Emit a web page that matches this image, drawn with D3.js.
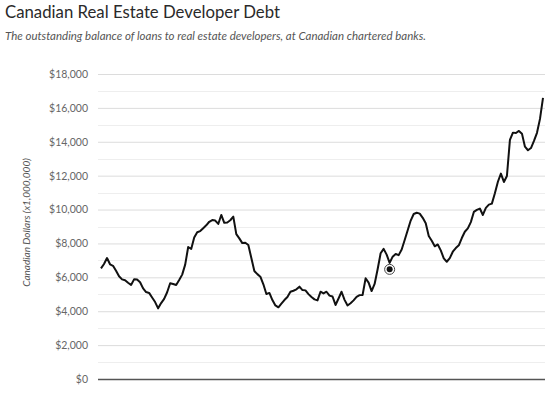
<!DOCTYPE html>
<html>
<head>
<meta charset="utf-8">
<script src="https://cdn.jsdelivr.net/npm/d3@7"></script>
<style>
    body { margin: 0; background: #fff; font-family: Lato, "Open Sans", sans-serif; }
    #chart-area { width: 553px; height: 393px; }
</style>
</head>
<body>
<div id="chart-area"></div>
<script>

// outstanding balance, C$ millions, evenly spaced observations
let debtValues = [
    6530, 6790, 7140, 6770, 6680, 6390, 6060, 5880, 5830, 5680,
    5550, 5880, 5870, 5710, 5350, 5130, 5080, 4810, 4540, 4170,
    4480, 4730, 5120, 5650, 5610, 5550, 5840, 6160, 6750, 7790,
    7670, 8350, 8660, 8730, 8900, 9070, 9280, 9380, 9350, 9150,
    9680, 9220, 9240, 9370, 9580, 8550, 8300, 8020, 8040, 7910,
    7140, 6370, 6190, 6040, 5590, 5020, 5080, 4660, 4340, 4230,
    4450, 4660, 4840, 5150, 5210, 5290, 5450, 5250, 5230, 5010,
    4840, 4700, 4640, 5150, 5050, 5150, 4920, 4870, 4370, 4750,
    5150, 4670, 4340, 4470, 4640, 4850, 4950, 4960, 5940, 5690,
    5190, 5610, 6480, 7420, 7680, 7340, 6850, 7220, 7380, 7310,
    7640, 8200, 8780, 9350, 9740, 9810, 9760, 9510, 9190, 8440,
    8160, 7830, 7940, 7590, 7120, 6920, 7130, 7510, 7730, 7890,
    8320, 8690, 8890, 9260, 9860, 9980, 10060, 9680, 10100, 10290,
    10350, 10960, 11640, 12120, 11630, 11980, 14110, 14540, 14520, 14640,
    14480, 13710, 13500, 13630, 14050, 14530, 15350, 16590
];

// highlighted point (hover marker)
let markerIndex = 96;
let markerValue = 6470;

let majorTicks = [0, 2000, 4000, 6000, 8000, 10000, 12000, 14000, 16000, 18000];
let minorTicks = [1000, 3000, 5000, 7000, 9000, 11000, 13000, 15000, 17000];

let titleText = "Canadian Real Estate Developer Debt";
let subtitleText = "The outstanding balance of loans to real estate developers, at Canadian chartered banks.";
let yLabelText = "Canadian Dollars (x1,000,000)";

let margin = {top: 74, right: 8, bottom: 14, left: 98};
let width = 553 - margin.left - margin.right;
let height = 393 - margin.top - margin.bottom;

let svg = d3.select("#chart-area").append("svg")
    .attr("width", 553)
    .attr("height", 393);

svg.append("text")
    .attr("x", 5)
    .attr("y", 18)
    .attr("font-size", 17.3)
    .attr("fill", "#2a2a2a")
    .attr("textLength", 275)
    .attr("lengthAdjust", "spacingAndGlyphs")
    .text(titleText);

svg.append("text")
    .attr("x", 5)
    .attr("y", 39.5)
    .attr("font-size", 11.7)
    .attr("font-style", "italic")
    .attr("fill", "#555")
    .attr("textLength", 421)
    .attr("lengthAdjust", "spacingAndGlyphs")
    .text(subtitleText);

let g = svg.append("g")
    .attr("transform", `translate(${margin.left},${margin.top})`);

// scales
let x = d3.scaleLinear()
    .domain([0, debtValues.length - 1])
    .range([3, 445]);

let y = d3.scaleLinear()
    .domain([0, 18000])
    .range([height, 0]);

// minor gridlines
g.selectAll(".minor-grid")
    .data(minorTicks)
    .enter().append("line")
    .attr("class", "minor-grid")
    .attr("x1", 0)
    .attr("x2", width)
    .attr("y1", d => Math.round(y(d)) + 0.5)
    .attr("y2", d => Math.round(y(d)) + 0.5)
    .attr("stroke", "#eeeeee");

// y axis with major gridlines
let yAxis = d3.axisLeft(y)
    .tickValues(majorTicks)
    .tickSize(-width)
    .tickPadding(10)
    .tickFormat(d => "$" + d3.format(",")(d));

let yAxisG = g.append("g")
    .attr("class", "y-axis")
    .call(yAxis);

yAxisG.select(".domain").remove();
yAxisG.selectAll(".tick line")
    .attr("stroke", d => d === 0 ? "#555" : "#dcdcdc")
    .attr("stroke-width", d => d === 0 ? 1.3 : 1);
yAxisG.selectAll(".tick text")
    .attr("font-family", "Lato, sans-serif")
    .attr("font-size", 10.5)
    .attr("fill", "#666");

// axis title
svg.append("text")
    .attr("transform", `translate(30,${margin.top + height / 2 - 4}) rotate(-90)`)
    .attr("text-anchor", "middle")
    .attr("font-size", 10)
    .attr("font-style", "italic")
    .attr("fill", "#555")
    .text(yLabelText);

// line
let line = d3.line()
    .x((d, i) => x(i))
    .y(d => y(d));

g.append("path")
    .datum(debtValues)
    .attr("fill", "none")
    .attr("stroke", "#111")
    .attr("stroke-width", 2)
    .attr("stroke-linejoin", "round")
    .attr("d", line);

// marker
g.append("circle")
    .attr("cx", x(markerIndex))
    .attr("cy", y(markerValue))
    .attr("r", 5)
    .attr("fill", "#fff")
    .attr("stroke", "#444")
    .attr("stroke-width", 1);

g.append("circle")
    .attr("cx", x(markerIndex))
    .attr("cy", y(markerValue))
    .attr("r", 3)
    .attr("fill", "#111");

</script>
</body>
</html>
